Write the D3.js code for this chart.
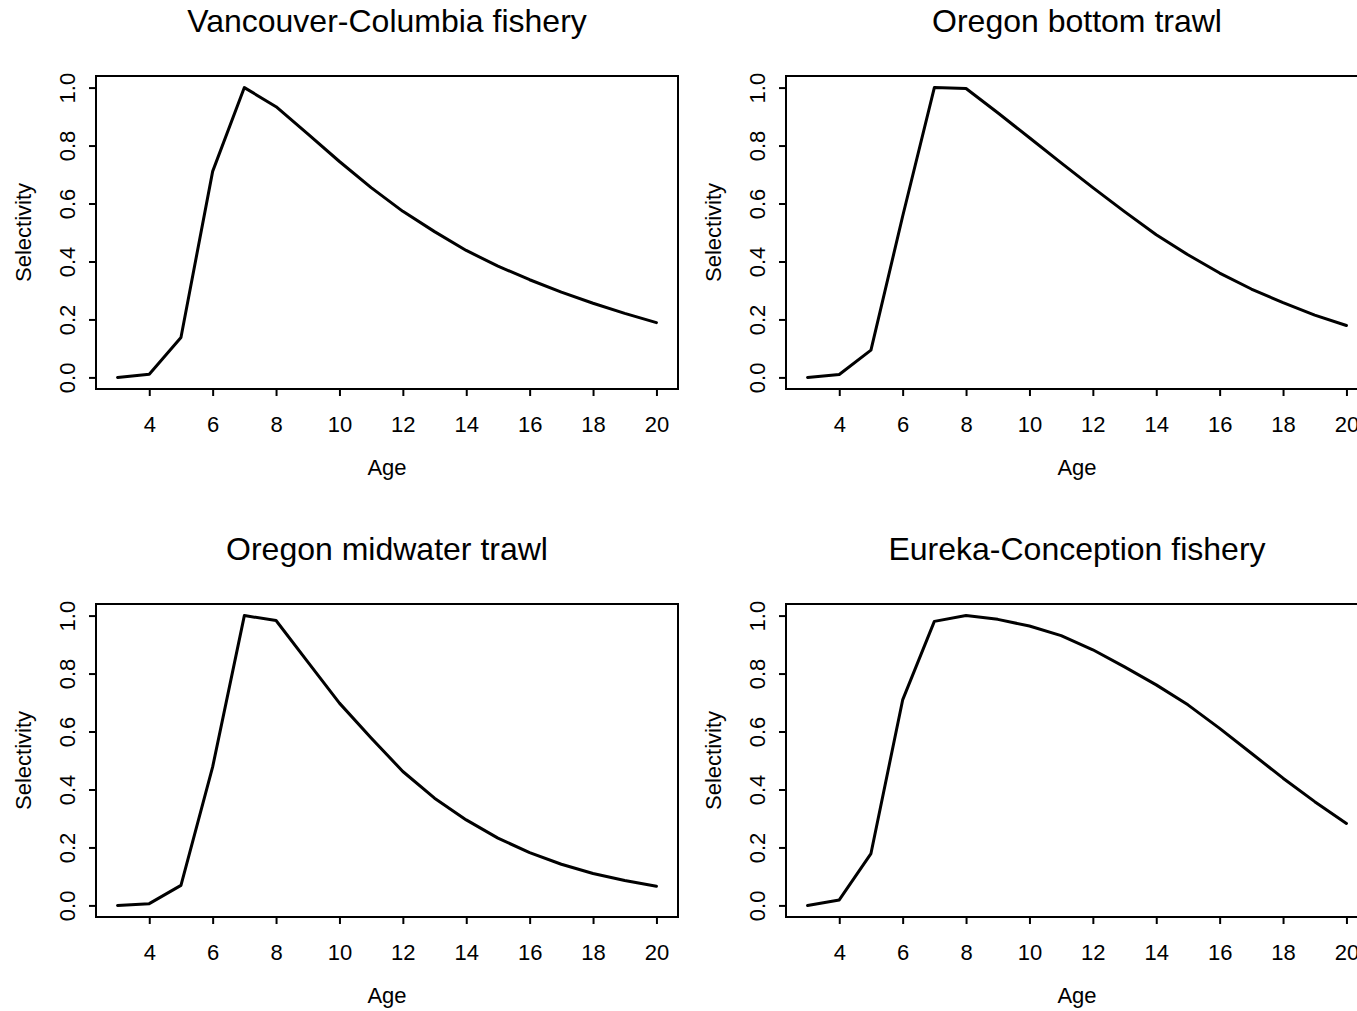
<!DOCTYPE html>
<html>
<head>
<meta charset="utf-8">
<script src="https://cdn.jsdelivr.net/npm/d3@7"></script>
<style>
  html, body { margin: 0; padding: 0; background: #fff; overflow: hidden; }
  svg { display: block; font-family: "Liberation Sans", Arial, Helvetica, sans-serif; }
</style>
</head>
<body>
<svg id="chart" width="1357" height="1011"></svg>
<script>
const ages = [3,4,5,6,7,8,9,10,11,12,13,14,15,16,17,18,19,20];
const titles = ["Vancouver-Columbia fishery", "Oregon bottom trawl", "Oregon midwater trawl", "Eureka-Conception fishery"];
const vancouverColumbia = [0.000,0.011,0.138,0.711,1.000,0.934,0.840,0.745,0.655,0.573,0.503,0.438,0.384,0.337,0.294,0.256,0.221,0.189];
const oregonBottom      = [0.000,0.010,0.094,0.556,1.000,0.997,0.913,0.827,0.740,0.655,0.572,0.492,0.423,0.360,0.305,0.258,0.215,0.179];
const oregonMidwater    = [0.000,0.006,0.069,0.478,1.000,0.983,0.840,0.698,0.578,0.462,0.370,0.295,0.232,0.182,0.142,0.110,0.086,0.066];
const eurekaConception  = [0.000,0.019,0.179,0.709,0.980,1.000,0.987,0.964,0.931,0.882,0.823,0.761,0.692,0.611,0.525,0.439,0.358,0.283];
const seriesList = [vancouverColumbia, oregonBottom, oregonMidwater, eurekaConception];
const xTicks = [4,6,8,10,12,14,16,18,20];
const yTicks = [0,0.2,0.4,0.6,0.8,1.0];
const xLabel = "Age";
const yLabel = "Selectivity";

const svg = d3.select("#chart");
const panelOffsets = [[0,0],[690,0],[0,528],[690,528]];
const box = {left: 96, right: 678, top: 76, bottom: 389};

seriesList.forEach((vals, i) => {
  const [ox, oy] = panelOffsets[i];
  const g = svg.append("g").attr("transform", `translate(${ox},${oy})`);
  const x = d3.scaleLinear().domain([3 - 0.68, 20 + 0.68]).range([box.left, box.right]);
  const y = d3.scaleLinear().domain([-0.04, 1.04]).range([box.bottom, box.top]);

  // title
  g.append("text").attr("x", (box.left + box.right) / 2).attr("y", 32)
    .attr("text-anchor", "middle").attr("font-size", 32).text(titles[i]);

  // x axis
  const xa = g.append("g").attr("transform", `translate(0,${box.bottom})`)
    .call(d3.axisBottom(x).tickValues(xTicks).tickSize(7).tickPadding(0).tickFormat(d3.format("d")));
  xa.select(".domain").remove();
  xa.selectAll(".tick line").attr("stroke", "#000").attr("stroke-width", 2);
  xa.selectAll(".tick text").attr("font-size", 22).attr("fill", "#000")
    .attr("y", 43).attr("dy", null).style("font-family", "Liberation Sans, Arial, sans-serif");

  // y axis
  const ya = g.append("g").attr("transform", `translate(${box.left},0)`)
    .call(d3.axisLeft(y).tickValues(yTicks).tickSize(7).tickFormat(d3.format(".1f")));
  ya.select(".domain").remove();
  ya.selectAll(".tick line").attr("stroke", "#000").attr("stroke-width", 2);
  ya.selectAll(".tick text").attr("font-size", 22).attr("fill", "#000")
    .attr("x", null).attr("dy", null).attr("text-anchor", "middle")
    .attr("transform", `translate(${75 - box.left},0) rotate(-90)`)
    .style("font-family", "Liberation Sans, Arial, sans-serif");

  // axis labels
  g.append("text").attr("x", (box.left + box.right) / 2).attr("y", 475)
    .attr("text-anchor", "middle").attr("font-size", 22).text(xLabel);
  g.append("text").attr("transform", `translate(31,${(box.top + box.bottom) / 2}) rotate(-90)`)
    .attr("text-anchor", "middle").attr("font-size", 22).text(yLabel);

  // box
  g.append("rect").attr("x", box.left).attr("y", box.top)
    .attr("width", box.right - box.left).attr("height", box.bottom - box.top)
    .attr("fill", "none").attr("stroke", "#000").attr("stroke-width", 2);

  // line
  const line = d3.line().x((d, j) => x(ages[j])).y(d => y(d));
  g.append("path").datum(vals).attr("d", line)
    .attr("fill", "none").attr("stroke", "#000").attr("stroke-width", 3)
    .attr("stroke-linejoin", "round").attr("stroke-linecap", "round");
});
</script>
</body>
</html>
